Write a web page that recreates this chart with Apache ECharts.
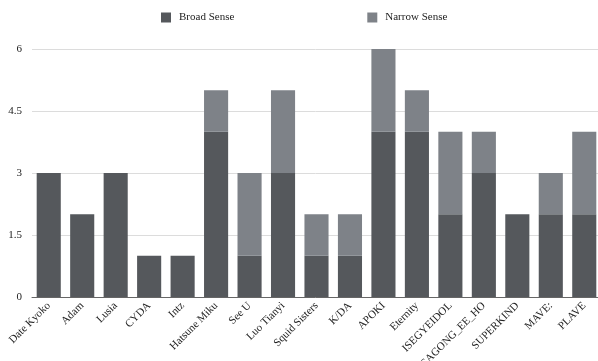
<!DOCTYPE html>
<html>
<head>
<meta charset="utf-8">
<script src="https://cdn.jsdelivr.net/npm/echarts@6/dist/echarts.min.js"></script>
<style>
  html, body { margin: 0; padding: 0; background: #fff; }
  #chart { width: 598px; height: 361px; }
</style>
</head>
<body>
<div id="chart"></div>
<script>
const categories = ['Date Kyoko', 'Adam', 'Lusia', 'CYDA', 'Intz', 'Hatsune Miku', 'See U', 'Luo Tianyi',
  'Squid Sisters', 'K/DA', 'APOKI', 'Eternity', 'ISEGYEIDOL', 'SAGONG_EE_HO', 'SUPERKIND', 'MAVE:', 'PLAVE']
const broadSense = [3, 2, 3, 1, 1, 4, 1, 3, 1, 1, 4, 4, 2, 3, 2, 2, 2]
const narrowSense = [0, 0, 0, 0, 0, 1, 2, 2, 1, 1, 2, 1, 2, 1, 0, 1, 2]
const yTicks = [0, 1.5, 3, 4.5, 6]

const font = '"Liberation Serif", "DejaVu Serif", serif'
const chart = echarts.init(document.getElementById('chart'))

chart.setOption({
  backgroundColor: '#fff',
  animation: false,
  textStyle: { fontFamily: font },
  legend: {
    top: 7,
    left: 156,
    itemWidth: 10,
    itemHeight: 10,
    itemGap: 133,
    icon: 'rect',
    textStyle: { color: '#222', fontSize: 11, fontFamily: font, padding: [0, 0, 0, 3] },
    data: ['Broad Sense', 'Narrow Sense']
  },
  grid: {
    top: 49,
    bottom: 64,
    left: 32,
    right: -3,
    containLabel: false,
    outerBoundsMode: 'none'
  },
  xAxis: {
    type: 'category',
    data: categories,
    axisTick: { show: false },
    axisLine: { lineStyle: { color: '#666', width: 1 } },
    axisLabel: {
      rotate: 45,
      interval: 0,
      color: '#222',
      fontSize: 11,
      fontFamily: font,
      margin: 7
    }
  },
  yAxis: {
    type: 'value',
    min: yTicks[0],
    max: yTicks[yTicks.length - 1],
    interval: 1.5,
    axisLine: { show: false },
    axisTick: { show: false },
    splitLine: { lineStyle: { color: '#dcdcdc', width: 1 } },
    axisLabel: {
      color: '#222',
      fontSize: 11,
      fontFamily: font,
      margin: 10
    }
  },
  series: [{
    name: 'Broad Sense',
    type: 'bar',
    stack: 'total',
    barCategoryGap: '28%',
    itemStyle: { color: '#55585c' },
    data: broadSense
  }, {
    name: 'Narrow Sense',
    type: 'bar',
    stack: 'total',
    barCategoryGap: '28%',
    itemStyle: { color: '#7e8288' },
    data: narrowSense
  }]
})
</script>
</body>
</html>
